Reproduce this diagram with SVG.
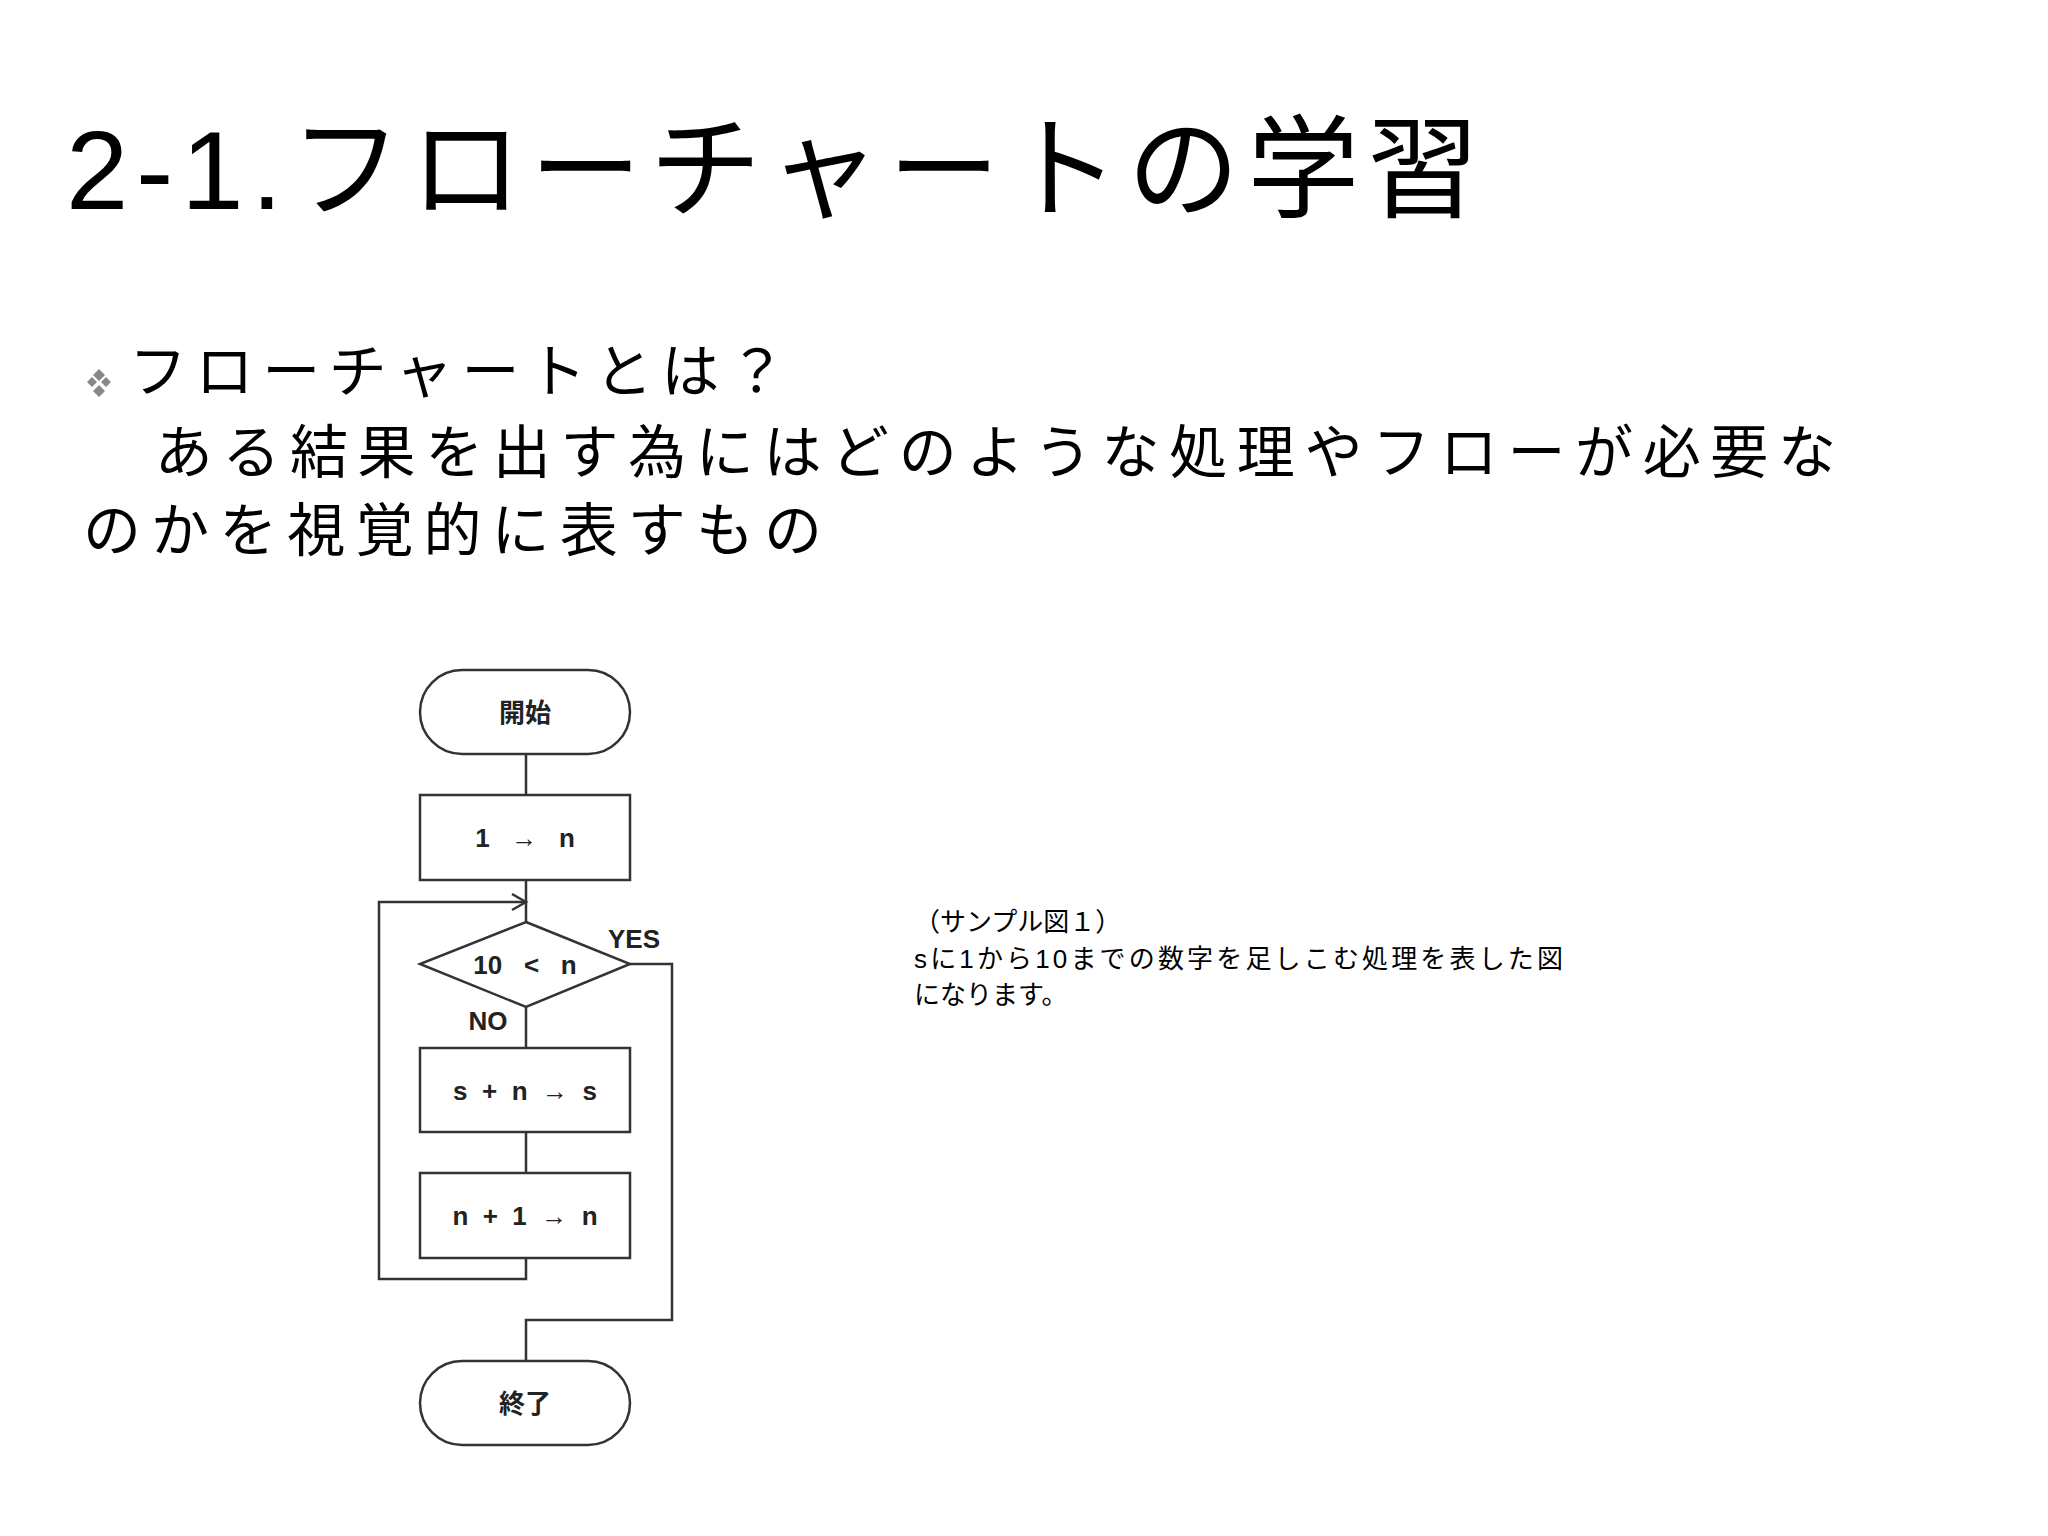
<svg xmlns="http://www.w3.org/2000/svg" width="2048" height="1536" viewBox="0 0 2048 1536">
<style>
.s{fill:#fff;stroke:#333;stroke-width:2.5}
.l{fill:none;stroke:#333;stroke-width:2.5}
.t{font-family:"Liberation Sans","Noto Sans CJK JP",sans-serif;fill:#000}
.f{font-family:"Liberation Sans","Noto Sans CJK JP",sans-serif;font-weight:bold;font-size:26px;fill:#222;text-anchor:middle}
</style>
<rect width="2048" height="1536" fill="#fff"/>
<text class="t" x="66" y="209" font-size="112" textLength="1413" lengthAdjust="spacing">2-1.フローチャートの学習</text>
<g fill="#888"><path d="M99 369l6 6-6 6-6-6z M92 377l5 5-5 5-5-5z M106 377l5 5-5 5-5-5z M99 385l6 6-6 6-6-6z"/></g>
<text class="t" x="129" y="392" font-size="58" textLength="657" lengthAdjust="spacing">フローチャートとは？</text>
<text class="t" x="87" y="473" font-size="58" textLength="1749" lengthAdjust="spacing">　ある結果を出す為にはどのような処理やフローが必要な</text>
<text class="t" x="83" y="551" font-size="58" textLength="739" lengthAdjust="spacing">のかを視覚的に表すもの</text>
<g id="caption" class="t" font-size="26">
<text x="914" y="931">（サンプル図１）</text>
<text x="914" y="968" textLength="649" lengthAdjust="spacing">sに1から10までの数字を足しこむ処理を表した図</text>
<text x="914" y="1004">になります。</text>
</g>
<g id="connectors">
<path class="l" d="M526 754V795 M526 880V922 M526 1007V1048 M526 1132V1173"/>
<path class="l" d="M526 1258V1279H379V902H526"/>
<path class="l" d="M512 894L526 902L512 910"/>
<path class="l" d="M630 964H672V1320H526V1361"/>
</g>
<g id="start"><rect class="s" x="420" y="670" width="210" height="84" rx="42"/><text class="f" x="525" y="722">開始</text></g>
<g id="init"><rect class="s" x="420" y="795" width="210" height="85"/><text class="f" x="525" y="847" xml:space="preserve">1   →   n</text></g>
<g id="cond"><path class="s" d="M526 922L630 964L526 1007L420 964Z"/><text class="f" x="525" y="974" xml:space="preserve">10   &lt;   n</text></g>
<text class="f" x="634" y="948">YES</text>
<text class="f" x="488" y="1030">NO</text>
<g id="add"><rect class="s" x="420" y="1048" width="210" height="84"/><text class="f" x="525" y="1100" xml:space="preserve">s  +  n  →  s</text></g>
<g id="inc"><rect class="s" x="420" y="1173" width="210" height="85"/><text class="f" x="525" y="1225" xml:space="preserve">n  +  1  →  n</text></g>
<g id="end"><rect class="s" x="420" y="1361" width="210" height="84" rx="42"/><text class="f" x="525" y="1413">終了</text></g>
</svg>
